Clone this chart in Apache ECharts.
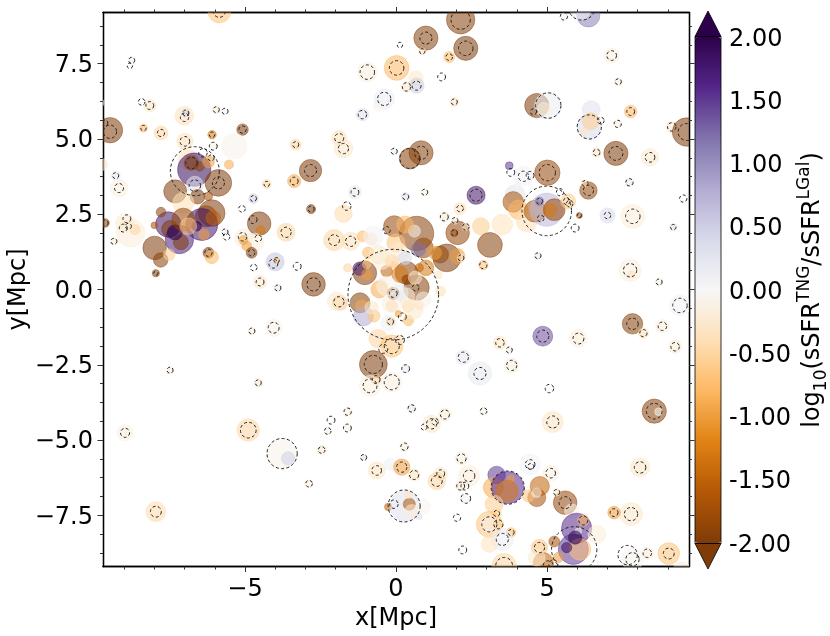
<!DOCTYPE html>
<html lang="en">
<head>
    <meta charset="UTF-8">
    <title>sSFR ratio map</title>
    <script src="https://cdn.jsdelivr.net/npm/echarts@6/dist/echarts.min.js"></script>
    <style>
        html, body { margin: 0; padding: 0; background: #fff; }
        #charts { width: 830px; height: 636px; }
    </style>
</head>
<body>
<div id="charts"></div>

<script>
    // filled discs: position [Mpc], radius [Mpc], log10 ratio
    var discX = [
        -5.85,-8.75,-8.15,-7.01,-6.96,-5.95,-5.66,-8.36,-7.78,-5.08,
        -6.09,-6.99,-6.05,-5.35,-9.47,-9.75,-9.28,-9.17,-6.88,-6.68,
        -6.77,-6.5,-6.21,-6.66,-5.53,-5.88,-7.31,-6.57,-6.21,-3.37,
        -2.83,-3.32,-1.88,-1.74,-4.28,-4.72,-2.81,-1.36,-1.74,-4.53,
        -4.48,-3.64,-2.05,-1.5,-7.04,-6.1,-6.29,-6.43,-6.6,-6.36,
        -6.05,-7.54,-7.48,-7.17,-7.12,-7.32,-7.78,-8,-7.04,-6.88,
        -7.99,-7.79,-7.51,-6.21,-6.1,-7.95,-8.79,-8.64,-8.97,-9.34,
        -9.63,-5.66,-5.05,-4.67,-5.05,-4.94,-4.78,-4,-3.95,-4.5,
        -3.91,-2.73,-0.95,0.02,-0.39,-0.58,-1.11,-0.06,2.14,0.99,
        2.31,0.87,1.76,0.66,0.68,0.35,1.93,4.66,5.04,4.9,
        6.46,6.4,6.45,6.2,7.14,7.36,7.77,7.34,9.13,9.62,
        7.28,6.64,8.41,0.83,0.46,3.75,4.22,5.01,2.65,0.32,
        0.95,6.37,6.26,7.73,3.94,3.88,4.05,4.33,4.6,4.99,
        4.75,5.24,5.1,5.7,6.07,7,7.84,9.18,2.81,3.52,
        3.11,2.12,1.6,2.04,1.93,1.95,2.31,2.89,4.7,7.75,
        7.8,8.71,0.68,-0.06,0.61,0.3,0,0.91,0.74,1.68,
        1.46,1.29,2.03,2.15,0.99,0.77,0.35,0.13,0.35,0.68,
        0.63,-1.03,-1.21,-0.97,-0.92,-0.97,-1.1,-0.81,-0.75,-1.6,
        -0.55,-0.5,-0.31,-0.14,-0.47,-0.09,0.41,-0.14,-0.14,0.08,
        0.41,-0.18,-0.25,0.77,0.57,1.48,1.4,0.91,-1.19,-1.14,
        -1.08,-0.73,-0.81,-1.86,-1.97,-0.59,-0.14,0.13,-0.75,-0.66,
        -0.86,-0.14,0.32,2.23,-0.58,0.08,0.3,-0.31,0.35,0.13,
        -7.48,-8.97,-7.95,-4.89,-3.77,-3.57,-4.56,-4.77,-4.05,-2.88,
        -2.46,-2.26,-1.6,-1.61,-1.07,-0.64,-0.2,-0.26,0.3,0.44,
        0.41,0.9,0.52,0.76,4.86,6.04,3.44,3.75,2.78,3.83,
        7.83,8.19,8.82,9.24,9.4,8.55,8.69,5.19,2.9,0.52,
        1.62,1.18,0.28,0.19,0.6,1.48,1.35,2.17,2.42,2.14,
        2.31,4.44,5.12,8.08,7.78,7.22,8.32,9.03,7.83,9.46,
        3.33,3.22,3.7,3.8,3.69,3.25,3.33,3.09,3.09,3.39,
        3.81,3.52,3.09,3.58,4.76,4.66,4.38,4.65,5.6,5.32,
        5.82,5.98,6.2,6.04,5.87,6.09,5.65,5.93,6.65,4.75,
        5.24,5.37,4.88,4.66,6.37,6.09,-9.8,5.56
    ];
    var discY = [
        9.24,7.61,6.11,5.77,5.86,5.97,5.92,5.36,5.2,5.31,
        5.14,4.92,4.76,4.76,5.29,4.15,3.78,3.37,4.31,3.98,
        4.2,4.09,4.24,3.48,4.15,3.54,3.26,3.08,3.1,3.6,
        3.95,4.81,5.03,4.68,3.5,3.02,2.67,3.23,2.52,2.19,
        1.97,1.9,1.64,1.6,2.88,2.54,2.43,2.16,2.1,1.83,
        2.38,2.16,2.01,1.66,1.57,1.9,2.57,2.13,2.32,2.1,
        1.38,0.98,1.16,1.22,1.08,0.54,1.88,1.99,2.21,1.6,
        2.21,1.91,1.71,1.57,1.64,1.44,1.22,0.92,0.97,0.25,
        0.05,0.17,7.22,7.36,6.33,6.08,5.81,4.59,8.96,8.35,
        8.01,7.91,7.72,7.02,6.77,6.73,6.23,6.11,6.11,6,
        5.97,5.4,5.59,5.22,7.77,6.9,5.91,5.5,5.4,5.23,
        4.52,4.55,4.39,4.54,4.35,4.11,3.76,3.88,3.13,3.08,
        3.23,3.29,3.52,3.56,3.15,2.91,2.65,2.27,2.6,2.65,
        2.93,2.65,2.63,2.93,2.46,2.46,2.43,2.07,2.1,2.16,
        1.48,2.69,2.41,1.88,1.88,2.29,2.08,0.81,1.12,0.64,
        0.5,0.25,1.86,2.1,1.94,2.16,1.55,1.38,1.33,1.05,
        1.16,1.22,1.11,1.05,0.72,0.72,0.55,0.5,0.33,0.06,
        0.39,0.55,0.69,0.5,1.22,0.83,1.77,1.68,1.77,0.72,
        0,0.11,0.61,0.94,1,-0.13,-0.55,-0.55,-0.44,-0.81,
        -1.03,-1.07,-1.11,-0.52,-0.66,-0.06,0.48,-0.33,-0.44,-0.55,
        -0.88,-0.88,-0.6,-0.44,-0.39,-1.63,-1.88,-1.68,-2.49,-2.99,
        -3.2,-3.08,-2.63,-2.25,1.16,1.22,1.05,0.11,-0.22,-0.11,
        -2.68,-4.76,-7.38,-4.67,-5.45,-5.61,-3.1,-1.38,-1.27,-6.45,
        -5.33,-4.7,-4.06,-4.6,-5.58,-6.01,-5.81,-7.22,-7.19,-7.13,
        -6.8,-7.21,-7.36,-7.54,-1.55,-1.63,-1.77,-2.01,-2.79,-2.52,
        -1.14,-1.45,-1.22,-1.9,-0.53,-4.04,-4.06,-4.4,-4.04,-3.95,
        -4.15,-4.46,-5.22,-5.9,-6.16,-6.12,-6.36,-5.61,-6.19,-6.53,
        -6.94,-5.81,-6.1,-5.91,-7.46,-7.41,-8.76,-8.77,-8.96,-9.35,
        -6.16,-6.58,-6.58,-6.28,-6.69,-7.13,-7.44,-7.8,-7.8,-7.8,
        -8.07,-8.3,-8.46,-9.18,-6.53,-6.91,-6.86,-6.75,-7.08,-6.74,
        -7.36,-7.93,-7.67,-8.02,-8.63,-8.63,-8.57,-8.24,-8.13,-8.57,
        -8.37,-8.9,-9.07,-8.9,9.1,9.3,6.2,9.07
    ];
    var discR = [
        0.38,0.13,0.21,0.31,0.13,0.14,0.11,0.13,0.23,0.19,
        0.14,0.27,0.13,0.42,0.42,0.2,0.16,0.3,0.33,0.55,
        0.24,0.16,0.2,0.28,0.15,0.44,0.38,0.24,0.14,0.22,
        0.37,0.18,0.25,0.31,0.15,0.16,0.15,0.22,0.29,0.39,
        0.15,0.3,0.35,0.3,0.35,0.44,0.35,0.53,0.16,0.18,
        0.24,0.42,0.28,0.47,0.25,0.25,0.16,0.11,0.38,0.28,
        0.39,0.24,0.19,0.18,0.22,0.12,0.47,0.17,0.31,0.12,
        0.14,0.13,0.3,0.3,0.15,0.16,0.18,0.3,0.1,0.22,
        0.12,0.39,0.33,0.41,0.34,0.16,0.21,0.14,0.47,0.4,
        0.4,0.11,0.18,0.24,0.25,0.17,0.15,0.4,0.45,0.22,
        0.3,0.41,0.28,0.14,0.25,0.13,0.21,0.12,0.19,0.47,
        0.4,0.16,0.29,0.4,0.35,0.13,0.33,0.42,0.3,0.14,
        0.13,0.29,0.12,0.14,0.33,0.34,0.32,0.35,0.36,0.55,
        0.14,0.36,0.22,0.25,0.1,0.25,0.4,0.12,0.28,0.34,
        0.41,0.2,0.18,0.39,0.12,0.12,0.13,0.16,0.12,0.37,
        0.12,0.13,0.57,0.35,0.2,0.28,0.3,0.33,0.24,0.46,
        0.28,0.22,0.25,0.13,0.26,0.14,0.38,0.27,0.15,0.42,
        0.22,0.39,0.22,0.17,0.19,0.14,0.18,0.2,0.33,0.14,
        0.28,0.22,0.19,0.22,0.33,0.2,0.2,0.19,0.33,0.11,
        0.17,0.14,0.25,0.14,0.33,0.16,0.13,0.25,0.33,0.2,
        0.33,0.2,0.22,0.25,0.3,0.31,0.37,0.15,0.46,0.17,
        0.35,0.33,0.13,0.25,0.3,0.33,0.22,0.33,0.27,0.27,
        0.13,0.27,0.33,0.37,0.5,0.22,0.15,0.12,0.29,0.13,
        0.16,0.12,0.16,0.13,0.11,0.28,0.2,0.12,0.5,0.2,
        0.14,0.24,0.22,0.1,0.33,0.29,0.22,0.12,0.39,0.25,
        0.34,0.17,0.22,0.22,0.35,0.4,0.13,0.35,0.12,0.15,
        0.22,0.29,0.16,0.27,0.2,0.22,0.29,0.22,0.35,0.17,
        0.17,0.35,0.27,0.32,0.38,0.21,0.2,0.36,0.37,0.3,
        0.29,0.33,0.53,0.12,0.36,0.3,0.16,0.43,0.28,0.17,
        0.16,0.36,0.27,0.41,0.32,0.3,0.2,0.16,0.39,0.12,
        0.24,0.5,0.19,0.11,0.5,0.36,0.17,0.22,0.3,0.27,
        0.18,0.17,0.33,0.28,0.38,0.35,0.14,0.12
    ];
    var discRatio = [
        -0.7,0.1,-0.3,-0.4,0.5,-0.15,-0.02,-0.8,-0.5,-2,
        -1.3,-0.4,-0.05,-0.08,-2,-0.3,0.2,-0.15,-0.4,1.9,
        -2,-1.95,-1,0.3,-0.9,-2,-2,-2,-1.7,-0.9,
        -2,-0.5,-0.4,-0.3,-0.5,0.5,-2,0.2,-0.45,-2,
        -1.3,-0.5,-0.5,-0.4,-0.4,-2,-1.85,1.8,2,-1,
        -1.5,1.8,-2,1.7,-2,2,-1.95,-1.7,-1.85,-0.7,
        -2,-1.95,-0.6,-2,-0.8,-1.85,-0.2,-0.5,-0.25,-0.2,
        -1.95,0.1,-0.2,-0.15,-1,-1,-2,0.6,-0.7,-0.3,
        0.2,-2,-0.15,-0.8,0.15,-0.1,0.35,0.1,-1.95,-1.95,
        -2,-0.4,-0.8,-0.3,0.5,-0.3,-0.3,-2,0.15,-0.2,
        0.3,0.4,-0.6,-0.3,-0.15,-0.2,-0.8,-0.15,-0.25,-2,
        -2,-0.3,-0.25,-1.95,-1.95,1.5,0.05,-1.85,1.8,0.3,
        -0.15,-1.85,-0.4,0.2,0.25,-1.7,-0.8,-0.4,-1.7,0.7,
        1.2,-1.85,-1.3,-0.6,-1.7,0.4,-0.2,0.3,-0.6,-0.35,
        -1.95,-0.4,-0.2,-1.85,-1.7,-0.2,-0.3,-0.7,0.2,-0.15,
        -0.4,-0.1,-1.95,-1.85,-0.1,-0.8,-0.7,-1.85,1.2,-2,
        -1.85,-1,-1,-0.2,-1.3,-1.5,-1.9,-1.3,-2,-1.95,
        -0.3,-1.95,1.7,-1,-0.8,-0.7,-0.8,-0.4,0.05,-0.5,
        -0.9,-0.5,-1.5,-0.8,-0.2,-1.95,-0.5,-0.6,-0.15,-1,
        -0.8,-0.9,0.1,-0.5,-0.25,-0.4,-0.3,-0.1,-1.95,-0.9,
        0.8,-0.7,-0.3,-0.7,-0.25,-0.5,-0.7,-0.3,-2,-0.7,
        -0.15,-0.15,0.2,0.2,-0.25,-0.2,0.4,-0.1,-0.2,0.2,
        -0.15,-0.15,-0.45,-0.5,-0.08,0.5,-0.2,-0.15,-0.1,-0.15,
        -0.25,-0.1,-0.15,-0.1,0.3,-0.35,0.1,-1.5,0.3,-1.7,
        -0.3,-0.05,-0.2,0.4,1.4,-0.2,-0.35,-0.1,0.2,-0.15,
        -1.95,-0.4,-0.15,-0.2,0.05,-1.95,-0.05,-0.35,-0.1,0.2,
        -0.2,-0.3,-0.15,-1,-0.35,-0.3,-0.5,-0.15,-0.2,-0.25,
        0.05,0.05,-0.15,-0.3,-0.3,-1,-0.2,-0.7,-0.05,-0.2,
        1.5,-0.9,1.6,-1,-1.3,-0.6,-0.5,-0.7,-0.1,-0.5,
        -0.8,0.15,-0.35,-0.5,-1.5,-1.7,-0.7,-0.1,-1.85,-0.3,
        -0.1,1.6,-0.8,0.1,1.5,-0.7,1.9,2,-0.2,-0.7,
        -1.7,-1,-1.5,-0.25,1.1,0.05,-0.3,-0.05
    ];

    // dashed circles: position [Mpc], radius [Mpc]
    var ringX = [
        -5.85,-8.75,-8.81,-8.42,-8.15,-7,-6.96,-5.95,-5.66,-8.36,
        -7.78,-5.08,-6.09,-6.99,-6.05,-9.47,-9.64,-9.28,-9.17,-6.66,
        -6.77,-6.39,-6.12,-6.66,-5.88,-3.37,-2.83,-3.32,-1.88,-1.74,
        -4.28,-4.72,-5.1,-2.81,-1.36,-1.63,-4.73,-3.64,-2.05,-1.5,
        -6.21,-7.95,-8.91,-9.03,-8.86,-9.34,-9.63,-5.66,-5.61,-5.08,
        -4.78,-4.56,-4.06,-3.95,-4.71,-3.27,-4.5,-3.91,-2.73,-0.95,
        0.02,-0.39,-1.11,-0.06,0.13,2.14,0.99,2.31,0.87,1.76,
        0.68,0.35,1.51,1.93,5.04,4.55,6.4,6.78,7.14,7.36,
        7.77,7.34,9.13,9.62,7.28,6.64,8.41,0.83,0.46,3.8,
        4.22,4.44,5.01,2.65,0.32,0.95,6.37,6.26,7.73,9.51,
        4.99,4.75,5.65,5.75,5.43,4.79,5.93,6.07,7,7.84,
        9.18,2.12,1.6,1.93,1.95,2.31,2.89,4.7,7.75,8.71,
        -0.09,2.15,0.65,-0.09,0.21,-0.18,-1.89,-0.14,-0.42,0.13,
        -0.75,-0.66,-0.86,-0.14,0.32,2.23,-0.31,-7.48,-8.97,-7.95,
        -4.89,-3.77,-4.56,-4.77,-4.05,-2.88,-2.46,-2.26,-2.15,-1.6,
        -1.61,-1.07,-0.64,-0.07,0.27,4.86,6.04,3.44,3.75,2.78,
        3.83,5.08,7.83,8.19,8.82,9.24,9.4,8.55,5.19,2.9,
        0.52,1.62,1.18,1.29,0.93,0.28,0.19,0.6,1.48,1.35,
        2.17,2.42,2.14,2.28,2.31,2.02,2.21,4.44,4.46,5.12,
        8.08,7.78,7.22,8.32,9.03,7.67,7.83,3.7,3.33,3.09,
        3.39,3.81,3.52,3.58,5.6,5.32,6.2,5.9,4.75,5.04,
        5.21,6.15,5.56
    ];
    var ringY = [
        9.24,7.61,7.43,6.23,6.11,5.72,5.86,5.97,5.92,5.36,
        5.2,5.31,5.14,4.92,4.76,5.24,5.53,3.78,3.37,3.93,
        4.2,4.54,4.37,3.45,3.54,3.6,3.95,4.81,5.03,4.68,
        3.5,3.02,2.68,2.67,3.23,2.77,2.32,1.9,1.64,1.6,
        1.22,0.54,2.35,2.04,2.1,1.6,2.21,1.91,1.75,1.75,
        1.22,1.7,0.86,0.97,0.73,0.77,0.25,0.05,0.17,7.22,
        7.36,6.33,5.81,4.59,8.12,8.96,8.35,8.01,7.91,7.72,
        6.77,6.73,7.06,6.23,6.11,5.9,5.4,5.61,7.77,6.9,
        5.91,5.5,5.4,5.23,4.52,4.55,4.39,4.54,4.35,3.89,
        3.76,3.79,3.88,3.13,3.08,3.23,3.29,3.52,3.56,3.02,
        2.61,2.93,2.93,2.85,3.23,2.36,2.04,2.46,2.46,2.43,
        2.07,2.69,2.41,1.88,2.29,2.08,0.81,1.12,0.64,0.25,
        -0.17,1.05,0.06,-0.13,-0.91,-1.07,-0.41,-1.88,-1.97,-1.68,
        -2.49,-2.99,-3.2,-3.08,-2.63,-2.25,1.97,-2.68,-4.76,-7.38,
        -4.67,-5.45,-3.1,-1.38,-1.27,-6.45,-5.33,-4.7,-4.34,-4.06,
        -4.6,-5.58,-6.01,-7.13,-7.19,-1.55,-1.63,-1.77,-2.01,-2.79,
        -2.52,-3.29,-1.14,-1.45,-1.22,-1.9,-0.53,-4.04,-4.4,-4.04,
        -3.95,-4.15,-4.46,-4.39,-4.57,-5.22,-5.9,-6.16,-6.12,-6.36,
        -5.61,-6.19,-6.53,-6.53,-6.94,-7.58,-8.65,-5.81,-5.88,-6.1,
        -5.91,-7.46,-7.41,-8.76,-8.77,-8.82,-8.96,-6.58,-7.44,-7.8,
        -7.8,-8.07,-8.3,-9.18,-7.08,-6.74,-7.67,-8.63,-8.57,-9.18,
        -9.13,9.4,9.07
    ];
    var ringR = [
        0.2,0.1,0.09,0.11,0.13,0.14,0.1,0.1,0.1,0.09,
        0.12,0.12,0.09,0.16,0.13,0.22,0.1,0.1,0.15,0.81,
        0.19,0.14,0.1,0.19,0.2,0.13,0.2,0.1,0.15,0.17,
        0.09,0.1,0.11,0.1,0.13,0.14,0.13,0.17,0.18,0.17,
        0.12,0.07,0.13,0.13,0.1,0.1,0.1,0.1,0.11,0.14,
        0.11,0.11,0.15,0.09,0.11,0.13,0.13,0.1,0.22,0.24,
        0.24,0.22,0.14,0.1,0.09,0.32,0.2,0.24,0.09,0.11,
        0.15,0.14,0.13,0.1,0.42,0.1,0.4,0.11,0.16,0.1,
        0.13,0.12,0.14,0.28,0.23,0.11,0.16,0.22,0.33,0.13,
        0.17,0.13,0.27,0.2,0.1,0.1,0.17,0.1,0.12,0.12,
        0.82,0.1,0.11,0.11,0.12,0.11,0.13,0.07,0.11,0.24,
        0.09,0.11,0.13,0.1,0.1,0.11,0.12,0.1,0.22,0.1,
        1.5,0.1,0.11,0.13,0.13,0.1,0.17,0.25,0.15,0.15,
        0.3,0.13,0.23,0.25,0.13,0.17,0.12,0.1,0.15,0.18,
        0.26,0.5,0.1,0.1,0.18,0.11,0.11,0.11,0.13,0.12,
        0.13,0.1,0.16,0.14,0.53,0.2,0.18,0.14,0.1,0.2,
        0.17,0.14,0.19,0.12,0.14,0.14,0.24,0.26,0.2,0.11,
        0.12,0.15,0.17,0.11,0.1,0.12,0.17,0.15,0.13,0.18,
        0.15,0.19,0.13,0.13,0.16,0.12,0.13,0.16,0.1,0.16,
        0.19,0.22,0.13,0.14,0.18,0.32,0.22,0.55,0.1,0.25,
        0.15,0.1,0.2,0.28,0.2,0.1,0.15,0.75,0.17,0.17,
        0.15,0.45,0.12
    ];

    var xMajorTicks = [-5, 0, 5];
    var xMinorTicks = [-9, -8, -7, -6, -4, -3, -2, -1, 1, 2, 3, 4, 6, 7, 8, 9];
    var yMajorTicks = [-7.5, -5, -2.5, 0, 2.5, 5, 7.5];
    var yMinorTicks = [
        -8.75, -8.125, -6.875, -6.25, -5.625, -4.375, -3.75, -3.125, -1.875, -1.25, -0.625,
        0.625, 1.25, 1.875, 3.125, 3.75, 4.375, 5.625, 6.25, 6.875, 8.125, 8.75
    ];
    var colorbarStops = [
        '#7f3b08', '#b35806', '#e08214', '#fdb863', '#fee0b6', '#f7f7f7',
        '#d8daeb', '#b2abd2', '#8073ac', '#542788', '#2d004b'
    ];

    var fontName = 'DejaVu Sans';
    // outerBoundsMode none, otherwise ECharts 6 shrinks a grid whose names stick out
    var plotRect = {left: 103, top: 12.5, width: 586, height: 554, outerBoundsMode: 'none'};
    var xLim = [-9.7, 9.7];
    var yLim = [-9.2, 9.2];

    function minusSign(text) {
        return String(text).replace('-', '\u2212');
    }

    // same frame, one axis per side and tick kind
    function frameXAxis(grid, pos, ticks, len, withLabels) {
        return {
            type: 'value', gridIndex: grid, position: pos, min: xLim[0], max: xLim[1],
            splitLine: {show: false},
            axisLine: {show: true, onZero: false, lineStyle: {color: '#000', width: 1.3}},
            axisTick: {show: true, length: len, customValues: ticks, lineStyle: {color: '#333', width: 1}},
            axisLabel: {
                show: withLabels, customValues: ticks, margin: 11, fontSize: 24, color: '#000', fontFamily: fontName,
                formatter: function (v) { return minusSign(v); }
            }
        };
    }

    function frameYAxis(grid, pos, ticks, len, withLabels) {
        return {
            type: 'value', gridIndex: grid, position: pos, min: yLim[0], max: yLim[1],
            splitLine: {show: false},
            axisLine: {show: true, onZero: false, lineStyle: {color: '#000', width: 1.3}},
            axisTick: {show: true, length: len, customValues: ticks, lineStyle: {color: '#333', width: 1}},
            axisLabel: {
                show: withLabels, customValues: ticks, margin: 10,
                formatter: function (v) { return '{t|' + minusSign(v.toFixed(1)) + '}'; },
                rich: {t: {fontSize: 24, color: '#000', fontFamily: fontName, padding: [4, 0, 0, 0]}}
            }
        };
    }

    function buildRows(cols) {
        var rows = [];
        for (var i = 0; i < cols[0].length; i++) {
            rows.push(cols.map(function (c) { return c[i]; }));
        }
        return rows;
    }

    function drawDisc(params, api) {
        var c = api.coord([api.value(0), api.value(1)]);
        var r = api.size([api.value(2), 0])[0];
        var color = api.visual('color');
        return {
            type: 'circle',
            shape: {cx: c[0], cy: c[1], r: r},
            style: {fill: color, stroke: color, lineWidth: 0.8, opacity: 0.55}
        };
    }

    function drawRing(params, api) {
        var c = api.coord([api.value(0), api.value(1)]);
        var r = api.size([api.value(2), 0])[0];
        return {
            type: 'circle',
            shape: {cx: c[0], cy: c[1], r: r},
            style: {fill: 'none', stroke: '#222', lineWidth: 1, lineDash: [3, 2.4]}
        };
    }

    var xMain = frameXAxis(0, 'bottom', xMajorTicks, 5.5, true);
    xMain.name = 'x[Mpc]';
    xMain.nameLocation = 'middle';
    xMain.nameGap = 36;
    xMain.nameTextStyle = {fontSize: 24, color: '#000', fontFamily: fontName};
    var yMain = frameYAxis(0, 'left', yMajorTicks, 5.5, true);
    yMain.name = 'y[Mpc]';
    yMain.nameLocation = 'middle';
    yMain.nameMoveOverlap = false;
    yMain.nameGap = 72;
    yMain.nameTextStyle = {fontSize: 24, color: '#000', fontFamily: fontName};

    var myChart = echarts.init(document.getElementById('charts'), null, {renderer: 'canvas'});

    myChart.setOption({
        animation: false,
        backgroundColor: '#fff',
        grid: [
            plotRect, plotRect, plotRect, plotRect,
            {left: 695, top: 37, width: 26, height: 506, outerBoundsMode: 'none'}
        ],
        xAxis: [
            xMain,
            frameXAxis(1, 'bottom', xMinorTicks, 3, false),
            frameXAxis(2, 'top', xMajorTicks, 5.5, false),
            frameXAxis(3, 'top', xMinorTicks, 3, false),
            {type: 'value', gridIndex: 4, min: 0, max: 1, show: false}
        ],
        yAxis: [
            yMain,
            frameYAxis(1, 'left', yMinorTicks, 3, false),
            frameYAxis(2, 'right', yMajorTicks, 5.5, false),
            frameYAxis(3, 'right', yMinorTicks, 3, false),
            {
                type: 'value', gridIndex: 4, position: 'right', min: -2, max: 2, interval: 0.5,
                splitLine: {show: false},
                axisLine: {show: false},
                axisTick: {show: true, length: 3, lineStyle: {color: '#000', width: 1}},
                axisLabel: {
                    margin: 8,
                    formatter: function (v) { return '{t|' + v.toFixed(2) + '}'; },
                    rich: {t: {fontSize: 24, color: '#000', fontFamily: fontName, padding: [5, 0, 0, 0]}}
                },
                name: '{n|log}{sub|10}{n|(sSFR}{sup|TNG}{n|/sSFR}{sup|LGal}{n|)}',
                nameLocation: 'middle',
                nameRotate: 90,
                nameGap: 75,
                nameTextStyle: {
                    rich: {
                        n: {fontSize: 24, fontFamily: fontName, color: '#000', lineHeight: 34, verticalAlign: 'middle'},
                        sub: {fontSize: 17, fontFamily: fontName, color: '#000', lineHeight: 17, verticalAlign: 'bottom'},
                        sup: {fontSize: 17, fontFamily: fontName, color: '#000', lineHeight: 17, verticalAlign: 'top'}
                    }
                }
            }
        ],
        visualMap: {
            type: 'continuous',
            seriesIndex: 0,
            dimension: 3,
            min: -2,
            max: 2,
            left: 695,
            top: 37,
            padding: 0,
            itemWidth: 26,
            itemHeight: 506,
            calculable: false,
            hoverLink: false,
            text: null,
            inRange: {color: colorbarStops}
        },
        graphic: [
            {
                type: 'polygon', silent: true, z: 100,
                shape: {points: [[695, 36.5], [708, 11], [721, 36.5]]},
                style: {fill: colorbarStops[10], stroke: '#000', lineWidth: 0.8}
            },
            {
                type: 'polygon', silent: true, z: 100,
                shape: {points: [[695, 543.5], [708, 569], [721, 543.5]]},
                style: {fill: colorbarStops[0], stroke: '#000', lineWidth: 0.8}
            },
            {
                type: 'rect', silent: true, z: 100,
                shape: {x: 695, y: 36.5, width: 26, height: 507},
                style: {fill: 'none', stroke: '#000', lineWidth: 0.8}
            }
        ],
        series: [
            {
                type: 'custom',
                coordinateSystem: 'cartesian2d',
                xAxisIndex: 0,
                yAxisIndex: 0,
                clip: true,
                silent: true,
                renderItem: drawDisc,
                dimensions: ['x', 'y', 'r', 'ratio'],
                encode: {x: 0, y: 1},
                data: buildRows([discX, discY, discR, discRatio]),
                z: 2
            },
            {
                type: 'custom',
                coordinateSystem: 'cartesian2d',
                xAxisIndex: 0,
                yAxisIndex: 0,
                clip: true,
                silent: true,
                renderItem: drawRing,
                dimensions: ['x', 'y', 'r'],
                encode: {x: 0, y: 1},
                data: buildRows([ringX, ringY, ringR]),
                z: 3
            }
        ]
    });
</script>
</body>
</html>
